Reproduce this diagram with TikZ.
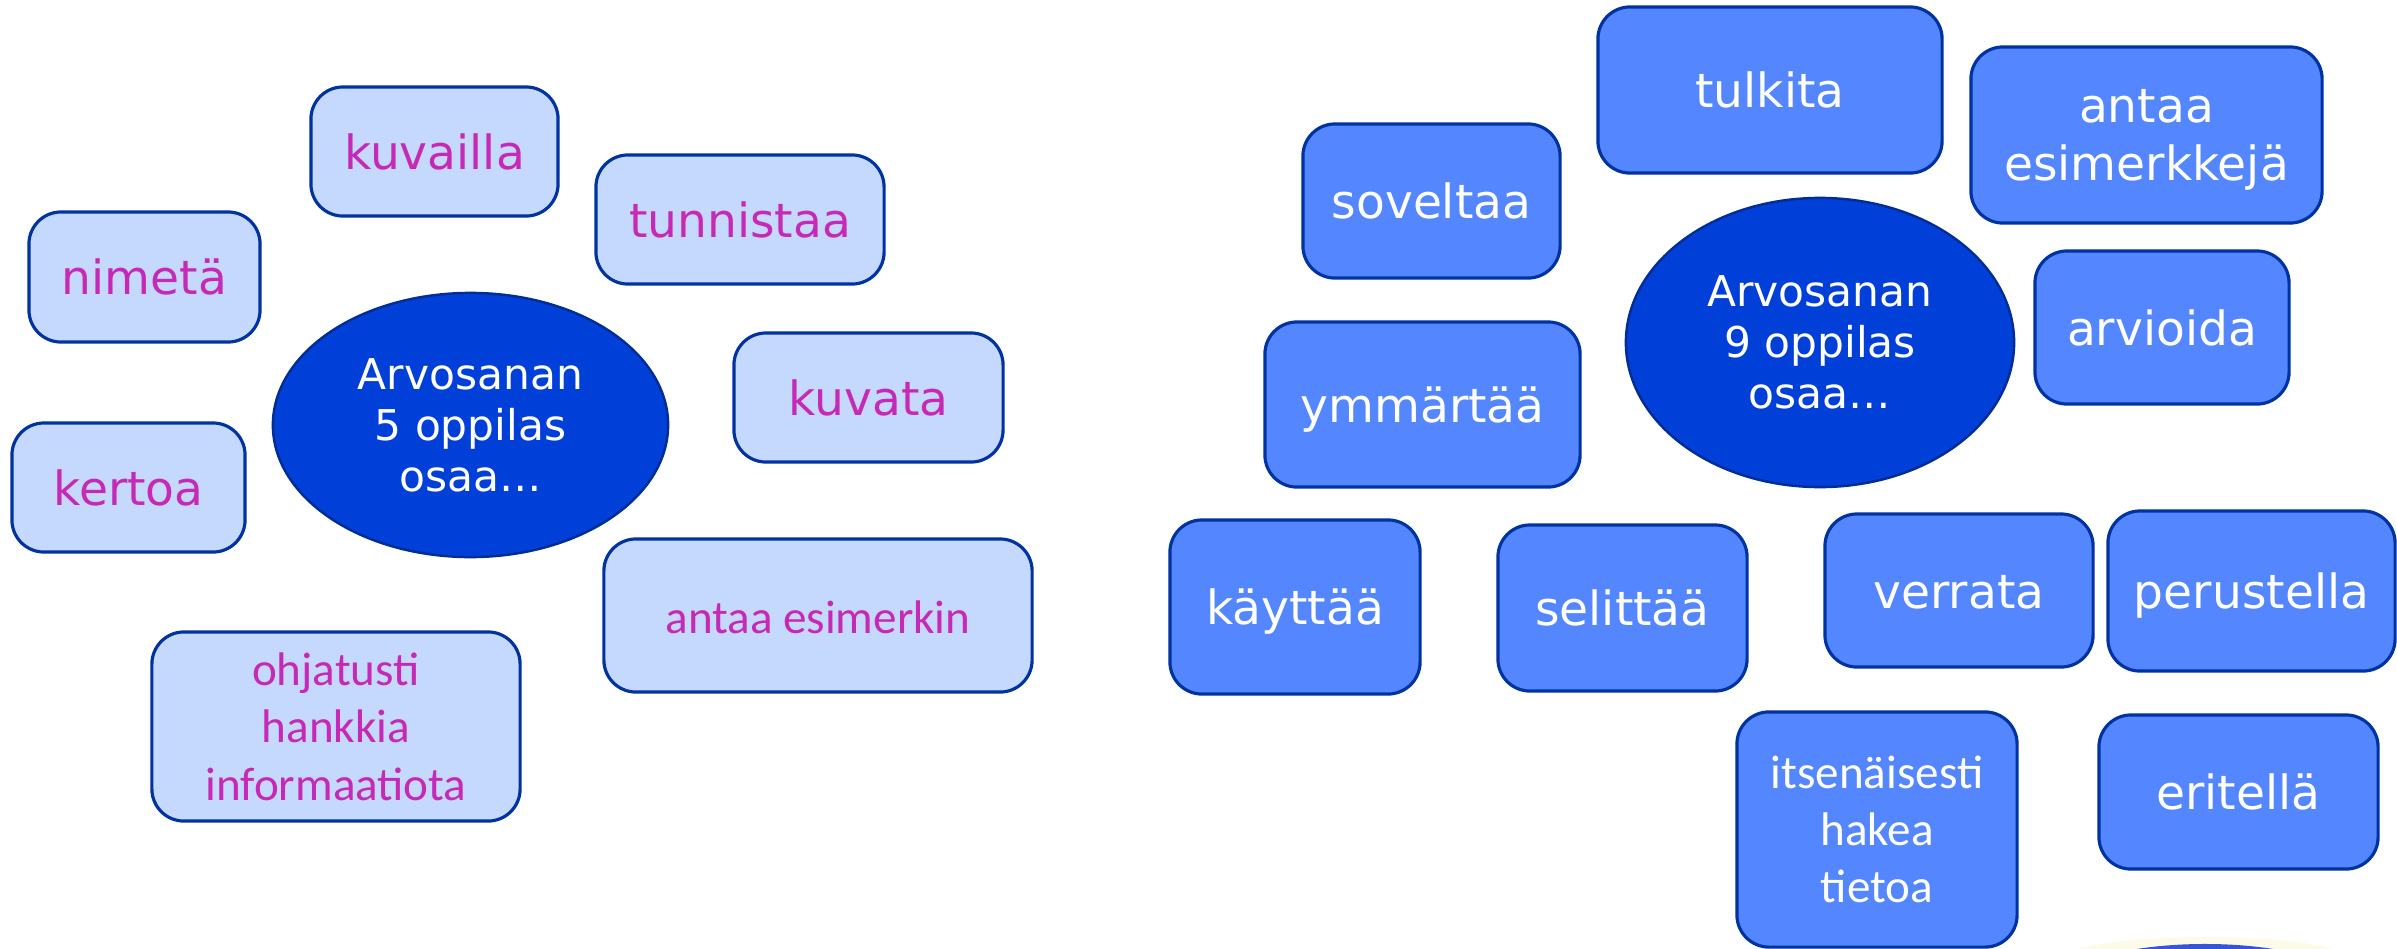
\documentclass[tikz,border=0pt]{standalone}
\usepackage{fontspec}
\setmainfont{DejaVu Sans}
\newfontfamily\calfont{Carlito}
\usetikzlibrary{shapes.geometric}
\definecolor{lfill}{RGB}{197,216,254}
\definecolor{rfill}{RGB}{83,134,255}
\definecolor{bord}{RGB}{0,51,160}
\definecolor{efill}{RGB}{0,64,216}
\definecolor{ebord}{RGB}{0,45,150}
\definecolor{mag}{RGB}{197,41,181}
\definecolor{glow}{RGB}{252,251,232}
\definecolor{knob}{RGB}{55,85,215}
\begin{document}
\begin{tikzpicture}[x=0.01cm, y=-0.01cm,
  box/.style={draw=bord, line width=0.9pt, rounded corners=0.32cm, inner sep=0pt, align=center, font=\fontsize{13.4}{16.3}\selectfont},
  lbox/.style={box, fill=lfill, text=mag},
  rbox/.style={box, fill=rfill, text=white},
  one/.style={text height=10.2pt, text depth=0pt},
  cal/.style={font=\calfont\fontsize{13.4}{16.3}\selectfont},
  oval/.style={ellipse, draw=ebord, line width=0.7pt, fill=efill, text=white, inner sep=0pt, align=center, font=\fontsize{12.05}{14.5}\selectfont}]
\useasboundingbox (0,0) rectangle (2397,948);
\clip (0,0) rectangle (2397,948);
% partial shape at bottom right edge
\fill[glow] (2206,960) ellipse [x radius=1.45cm, y radius=0.23cm];
\fill[knob] (2205,990) ellipse [x radius=1.5cm, y radius=0.46cm];
% left group
\node[lbox, one, minimum width=2.31cm, minimum height=1.30cm] (nimeta) at (144.5,277) {nimetä};
\node[lbox, one, minimum width=2.47cm, minimum height=1.29cm] (kuvailla) at (434.5,151.5) {kuvailla};
\node[lbox, one, minimum width=2.88cm, minimum height=1.29cm] (tunnistaa) at (740,219.5) {tunnistaa};
\node[lbox, one, minimum width=2.69cm, minimum height=1.29cm] (kuvata) at (868.5,397.5) {kuvata};
\node[lbox, one, minimum width=2.33cm, minimum height=1.29cm] (kertoa) at (128.5,487.5) {kertoa};
\node[oval, minimum width=3.95cm, minimum height=2.64cm] (arv5) at (470.5,425) {Arvosanan\\5 oppilas\\osaa…};
\node[lbox, one, cal, minimum width=4.28cm, minimum height=1.53cm] (esimerkin) at (818,615.5) {antaa esimerkin};
\node[lbox, cal, minimum width=3.68cm, minimum height=1.89cm] (ohjatusti) at (336,726.5) {ohjatusti\\hankkia\\informaatiota};
% right group
\node[rbox, one, minimum width=3.44cm, minimum height=1.66cm] (tulkita) at (1770,90) {tulkita};
\node[rbox, text depth=0pt, minimum width=3.51cm, minimum height=1.76cm] (esimerkkeja) at (2146.5,135) {antaa\\esimerkkejä};
\node[rbox, one, minimum width=2.57cm, minimum height=1.54cm] (soveltaa) at (1431.5,201) {soveltaa};
\node[oval, minimum width=3.88cm, minimum height=2.89cm] (arv9) at (1820,342.5) {Arvosanan\\9 oppilas\\osaa…};
\node[rbox, one, minimum width=2.54cm, minimum height=1.53cm] (arvioida) at (2162,327.5) {arvioida};
\node[rbox, one, minimum width=3.15cm, minimum height=1.65cm] (ymmartaa) at (1422.5,404.5) {ymmärtää};
\node[rbox, one, minimum width=2.50cm, minimum height=1.74cm] (kayttaa) at (1295,607) {käyttää};
\node[rbox, one, minimum width=2.49cm, minimum height=1.66cm] (selittaa) at (1622.5,608) {selittää};
\node[rbox, one, minimum width=2.68cm, minimum height=1.53cm] (verrata) at (1959,590.5) {verrata};
\node[rbox, one, minimum width=2.87cm, minimum height=1.60cm] (perustella) at (2251.5,591) {perustella};
\node[rbox, cal, minimum width=2.80cm, minimum height=2.35cm] (itsenaisesti) at (1877,829.5) {itsenäisesti\\hakea\\tietoa};
\node[rbox, one, minimum width=2.79cm, minimum height=1.54cm] (eritella) at (2238.5,792) {eritellä};
\end{tikzpicture}
\end{document}
